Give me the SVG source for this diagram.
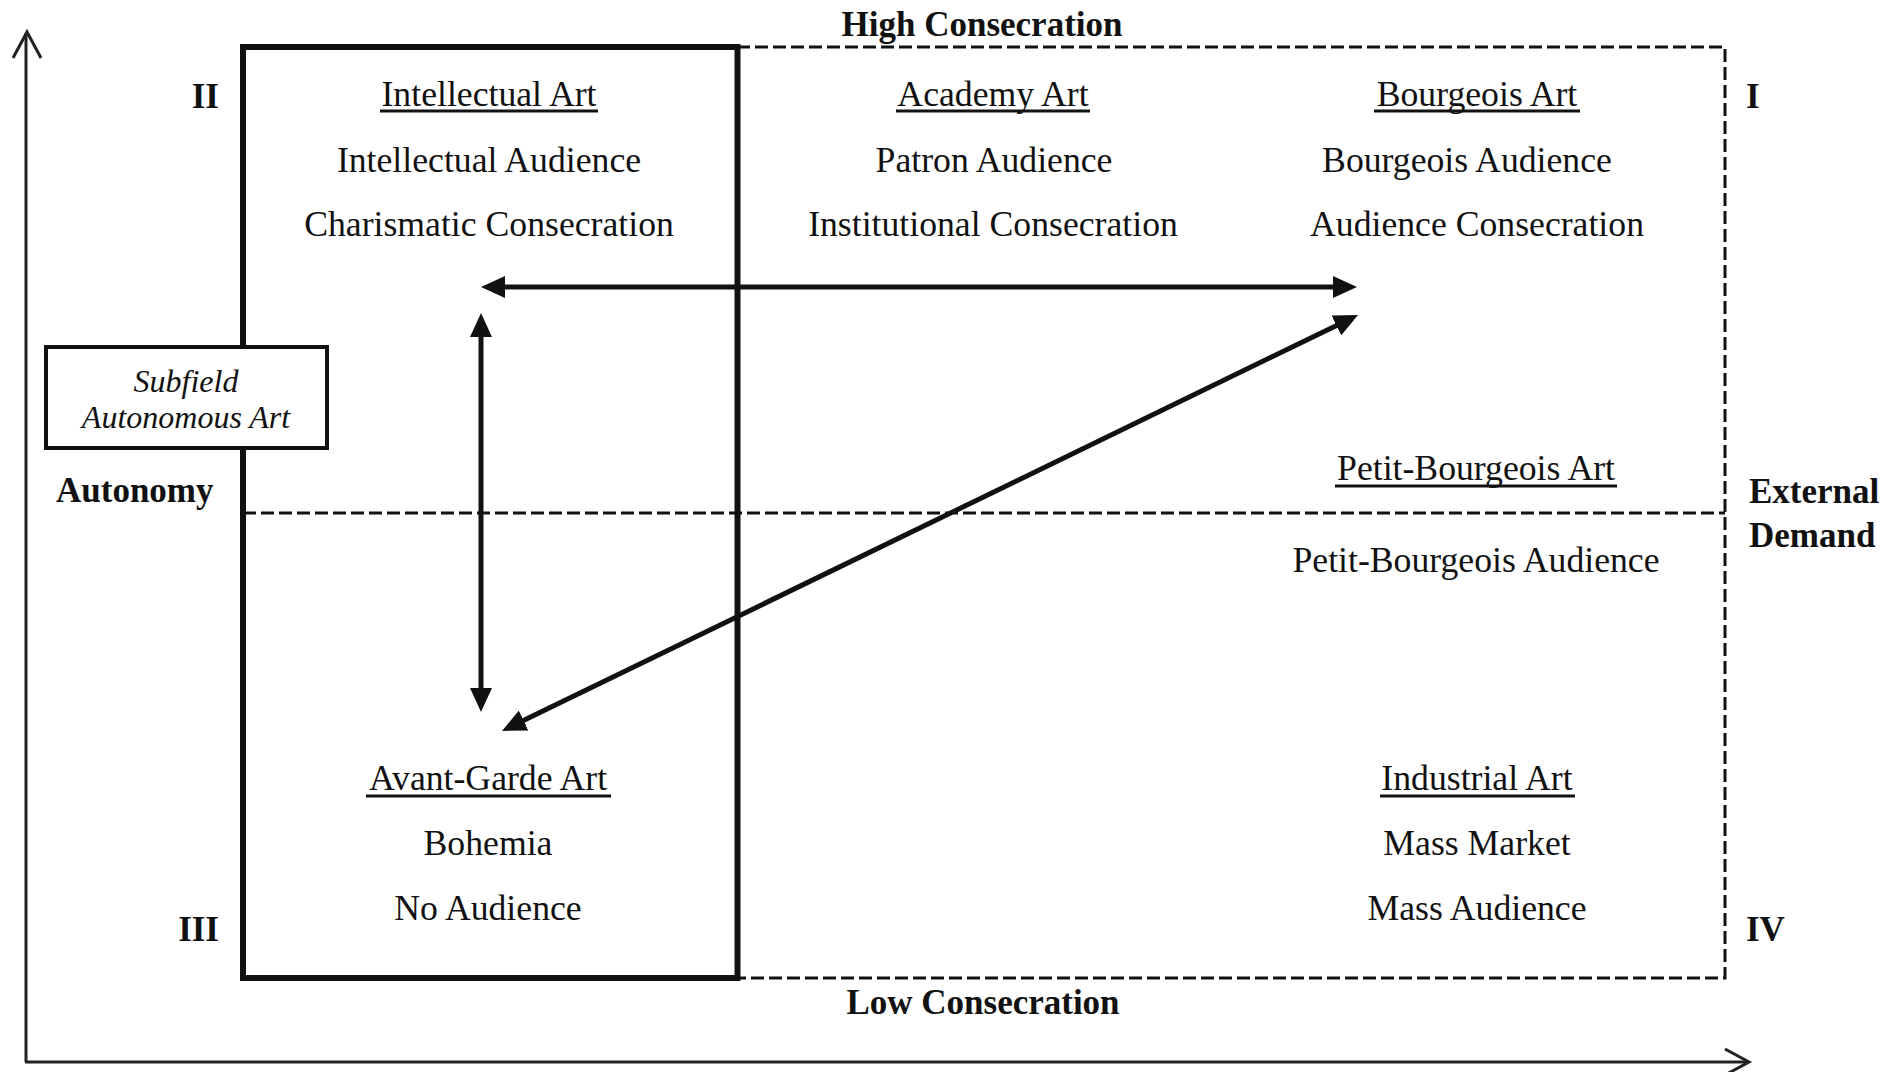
<svg xmlns="http://www.w3.org/2000/svg" width="1898" height="1072" viewBox="0 0 1898 1072">
  <style>
    text { font-family: "Liberation Serif", "Times New Roman", serif; font-size: 35.7px; fill: #111; }
    .c { text-anchor: middle; }
    .b { font-weight: bold; font-size: 35px; }
    .it { font-style: italic; font-size: 32px; }
    .ul { stroke: #111; stroke-width: 3; }
    .axis { fill: none; stroke: #222; stroke-width: 3; }
    .dash { fill: none; stroke: #111; stroke-width: 3; stroke-dasharray: 13 5; }
    .thick { fill: none; stroke: #111; stroke-width: 6; }
    .conn { fill: none; stroke: #111; stroke-width: 5; }
  </style>
  <defs>
    <marker id="head" viewBox="0 0 24 22" refX="14" refY="11" markerWidth="24" markerHeight="22" markerUnits="userSpaceOnUse" orient="auto-start-reverse">
      <path d="M0,0 L24,11 L0,22 z" fill="#111"/>
    </marker>
  </defs>
  <rect width="1898" height="1072" fill="#fff"/>

  <!-- axes -->
  <g id="axes">
    <path class="axis" d="M26,1062 L26,33"/>
    <path class="axis" d="M13,58 L27,32 L41,58"/>
    <path class="axis" d="M25,1062 L1748,1062"/>
    <path class="axis" d="M1725,1049 L1749,1062 L1725,1075"/>
  </g>

  <!-- field frame: dashed outer region and quadrant divider -->
  <g id="field">
    <path class="dash" d="M737,47 L1725,47 L1725,978 L737,978"/>
    <path class="dash" d="M243,513 L1725,513"/>
  </g>

  <!-- autonomous subfield (thick box) -->
  <g id="subfield-box">
    <rect class="thick" x="243" y="47" width="494.5" height="931"/>
  </g>

  <!-- axis labels -->
  <g id="label-high">
    <text class="c b" x="982" y="36">High Consecration</text>
  </g>
  <g id="label-low">
    <text class="c b" x="983" y="1014">Low Consecration</text>
  </g>
  <g id="label-autonomy">
    <text class="b" x="56" y="502">Autonomy</text>
  </g>
  <g id="label-external">
    <text class="b" x="1749" y="503">External</text>
    <text class="b" x="1749" y="547">Demand</text>
  </g>

  <!-- quadrant numerals -->
  <g id="q2"><text class="b" x="219" y="108" text-anchor="end">II</text></g>
  <g id="q1"><text class="b" x="1746" y="108">I</text></g>
  <g id="q3"><text class="b" x="219" y="941" text-anchor="end">III</text></g>
  <g id="q4"><text class="b" x="1746" y="941">IV</text></g>

  <!-- subfield label box -->
  <g id="subfield-label">
    <rect x="46" y="347" width="281" height="101" fill="#fff" stroke="#111" stroke-width="4"/>
    <text class="c it" x="186" y="392">Subfield</text>
    <text class="c it" x="186" y="428">Autonomous Art</text>
  </g>

  <!-- positions -->
  <g id="intellectual-art">
    <text class="c" x="489" y="106">Intellectual Art</text>
    <line class="ul" x1="380" y1="111" x2="598" y2="111"/>
    <text class="c" x="489" y="172">Intellectual Audience</text>
    <text class="c" x="489" y="236">Charismatic Consecration</text>
  </g>
  <g id="academy-art">
    <text class="c" x="993" y="106">Academy Art</text>
    <line class="ul" x1="896" y1="111" x2="1090" y2="111"/>
    <text class="c" x="994" y="172">Patron Audience</text>
    <text class="c" x="993" y="236">Institutional Consecration</text>
  </g>
  <g id="bourgeois-art">
    <text class="c" x="1477" y="106">Bourgeois Art</text>
    <line class="ul" x1="1374" y1="111" x2="1580" y2="111"/>
    <text class="c" x="1467" y="172">Bourgeois Audience</text>
    <text class="c" x="1477" y="236">Audience Consecration</text>
  </g>
  <g id="petit-bourgeois-art">
    <text class="c" x="1476" y="480">Petit-Bourgeois Art</text>
    <line class="ul" x1="1335" y1="486" x2="1617" y2="486"/>
    <text class="c" x="1476" y="572">Petit-Bourgeois Audience</text>
  </g>
  <g id="avant-garde-art">
    <text class="c" x="488" y="790">Avant-Garde Art</text>
    <line class="ul" x1="366" y1="796" x2="611" y2="796"/>
    <text class="c" x="488" y="855">Bohemia</text>
    <text class="c" x="488" y="920">No Audience</text>
  </g>
  <g id="industrial-art">
    <text class="c" x="1477" y="790">Industrial Art</text>
    <line class="ul" x1="1380" y1="796" x2="1575" y2="796"/>
    <text class="c" x="1477" y="855">Mass Market</text>
    <text class="c" x="1477" y="920">Mass Audience</text>
  </g>

  <!-- connectors -->
  <g id="connectors">
    <line class="conn" x1="491" y1="287" x2="1347" y2="287" marker-start="url(#head)" marker-end="url(#head)"/>
    <line class="conn" x1="481" y1="323" x2="481" y2="702" marker-start="url(#head)" marker-end="url(#head)"/>
    <line class="conn" x1="511" y1="726.6" x2="1349" y2="319.4" marker-start="url(#head)" marker-end="url(#head)"/>
  </g>
</svg>
